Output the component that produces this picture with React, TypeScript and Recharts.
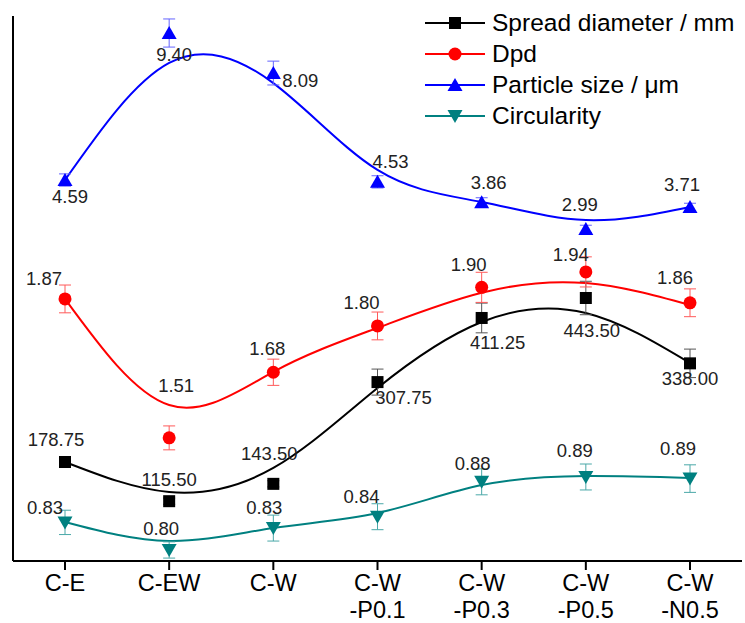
import React from 'react';
import { ComposedChart, Line, XAxis, YAxis, ErrorBar, LabelList, CartesianGrid } from 'recharts';

const FONT = '"Liberation Sans", Arial, sans-serif';

// categories (two-line tick labels split on \n)
const categories = ['C-E', 'C-EW', 'C-W', 'C-W\n-P0.1', 'C-W\n-P0.3', 'C-W\n-P0.5', 'C-W\n-N0.5'];

// measured points
const spread = [178.75, 115.5, 143.5, 307.75, 411.25, 443.5, 338.0];
const dpd = [1.87, 1.51, 1.68, 1.8, 1.9, 1.94, 1.86];
const size = [4.59, 9.4, 8.09, 4.53, 3.86, 2.99, 3.71];
const circ = [0.834, 0.8, 0.827, 0.841, 0.884, 0.89, 0.888];

// error bars
const spreadErr = [8, 5, 5, 21, 24, 27, 23];
const dpdErr = [0.036, 0.031, 0.034, 0.036, 0.039, 0.039, 0.036];
const sizeErr = [0.2, 0.46, 0.39, 0.2, 0.15, 0.12, 0.12];
const circErr = [0.015, 0.01, 0.016, 0.016, 0.016, 0.016, 0.017];

// smoothed fit curves at each category
const spreadFit = [178.75, 130.3, 169.1, 298.2, 404.7, 419.3, 338.5];
const dpdFit = [1.87, 1.595, 1.681, 1.795, 1.886, 1.911, 1.854];
const sizeFit = [4.59, 8.42, 7.76, 4.92, 3.87, 3.28, 3.71];
const circFit = [0.8345, 0.8111, 0.8271, 0.8456, 0.88, 0.8912, 0.8888];

const data = categories.map((cat, i) => ({
  cat,
  spread: spread[i],
  spreadErr: spreadErr[i],
  spreadFit: spreadFit[i],
  dpd: dpd[i],
  dpdErr: dpdErr[i],
  dpdFit: dpdFit[i],
  size: size[i],
  sizeErr: sizeErr[i],
  sizeFit: sizeFit[i],
  circ: circ[i],
  circErr: circErr[i],
  circFit: circFit[i],
}));

type Shape = 'square' | 'circle' | 'up' | 'down';

const SERIES: {
  key: string;
  label: string;
  color: string;
  errColor: string;
  shape: Shape;
  domain: [number, number];
  offsets: [number, number][];
}[] = [
  {
    key: 'spread',
    label: 'Spread diameter / mm',
    color: '#000000',
    errColor: '#555555',
    shape: 'square',
    domain: [18.95, 898.7],
    offsets: [[-9, -23], [0, -22], [-4, -30], [26, 15], [16, 25], [6, 33], [0, 15]],
  },
  {
    key: 'dpd',
    label: 'Dpd',
    color: '#ff0000',
    errColor: '#ff5a5a',
    shape: 'circle',
    domain: [1.191, 2.603],
    offsets: [[-21, -20], [7, -52], [-6, -24], [-16, -23], [-13, -23], [-15, -17], [-15, -25]],
  },
  {
    key: 'size',
    label: 'Particle size / \u03bcm',
    color: '#0000ff',
    errColor: '#6464ff',
    shape: 'up',
    domain: [-7.877, 9.957],
    offsets: [[5, 16], [5, 21], [27, 7], [13, -20], [7, -20], [-6, -24], [-8, -22]],
  },
  {
    key: 'circ',
    label: 'Circularity',
    color: '#008080',
    errColor: '#4aa8a8',
    shape: 'down',
    domain: [0.7864, 1.4584],
    offsets: [[-20, -15], [-8, -21], [-9, -21], [-16, -20], [-9, -18], [-11, -26], [-12, -30]],
  },
];

function marker(shape: Shape, cx: number, cy: number, color: string, key?: string) {
  if (shape === 'square') return <rect key={key} x={cx - 6} y={cy - 6} width={12} height={12} fill={color} />;
  if (shape === 'circle') return <circle key={key} cx={cx} cy={cy} r={6.5} fill={color} />;
  if (shape === 'up')
    return <polygon key={key} points={`${cx},${cy - 7} ${cx - 7.5},${cy + 6} ${cx + 7.5},${cy + 6}`} fill={color} />;
  return <polygon key={key} points={`${cx - 7.5},${cy - 6} ${cx + 7.5},${cy - 6} ${cx},${cy + 7}`} fill={color} />;
}

const CategoryTick = (props: any) => {
  const { x, y, payload } = props;
  const lines = String(payload.value).split('\n');
  return (
    <text x={x} y={y} textAnchor="middle" fontFamily={FONT} fontSize={23.5} fill="#000">
      {lines.map((l, i) => (
        <tspan key={i} x={x} dy={i === 0 ? 19 : 27}>
          {l}
        </tspan>
      ))}
    </text>
  );
};

export default function App() {
  return (
    <div style={{ position: 'absolute', left: 0, top: 0, width: 745, height: 623, background: '#fff' }}>
      <ComposedChart width={745} height={623} data={data} margin={{ top: 16, right: 3, left: 13, bottom: 7 }}>
        {/* left frame line only (no y ticks in the reference) */}
        <CartesianGrid
          horizontal={false}
          vertical
          verticalCoordinatesGenerator={({ offset }: any) => [offset.left]}
          stroke="#000"
          strokeWidth={2}
        />
        <XAxis
          dataKey="cat"
          height={55}
          interval={0}
          padding={{ left: 52, right: 52 }}
          tick={<CategoryTick />}
          tickSize={9}
          tickLine={{ stroke: '#000', strokeWidth: 2 }}
          axisLine={{ stroke: '#000', strokeWidth: 2 }}
        />
        {SERIES.map((s) => (
          <YAxis key={s.key} yAxisId={s.key} hide domain={s.domain} allowDataOverflow />
        ))}
        {SERIES.map((s) => (
          <Line
            key={s.key + 'Fit'}
            yAxisId={s.key}
            dataKey={s.key + 'Fit'}
            type="natural"
            stroke={s.color}
            strokeWidth={2}
            dot={false}
            activeDot={false}
            isAnimationActive={false}
          />
        ))}
        {SERIES.map((s) => (
          <Line
            key={s.key}
            yAxisId={s.key}
            dataKey={s.key}
            stroke="none"
            strokeWidth={0}
            activeDot={false}
            isAnimationActive={false}
            dot={(p: any) => marker(s.shape, p.cx, p.cy, s.color, `${s.key}-dot-${p.index}`)}
          >
            <ErrorBar dataKey={s.key + 'Err'} direction="y" width={6} stroke={s.errColor} strokeWidth={1} />
            <LabelList
              dataKey={s.key}
              content={(p: any) => {
                const [dx, dy] = s.offsets[p.index] || [0, 0];
                return (
                  <text
                    x={p.x + dx}
                    y={p.y + dy}
                    textAnchor="middle"
                    dominantBaseline="central"
                    fontFamily={FONT}
                    fontSize={18.5}
                    fill="#222"
                  >
                    {Number(p.value).toFixed(2)}
                  </text>
                );
              }}
            />
          </Line>
        ))}
      </ComposedChart>
      <div
        style={{
          position: 'absolute',
          left: 425,
          top: 7,
          fontFamily: FONT,
          fontSize: 24.5,
          color: '#000',
        }}
      >
        {SERIES.map((s) => (
          <div key={s.key} style={{ display: 'flex', alignItems: 'center', height: 31, whiteSpace: 'nowrap' }}>
            <svg width={67} height={20} style={{ flex: 'none' }}>
              <line x1={0} y1={10} x2={60} y2={10} stroke={s.color} strokeWidth={2} />
              {marker(s.shape, 30, 10, s.color)}
            </svg>
            <span>{s.label}</span>
          </div>
        ))}
      </div>
    </div>
  );
}
